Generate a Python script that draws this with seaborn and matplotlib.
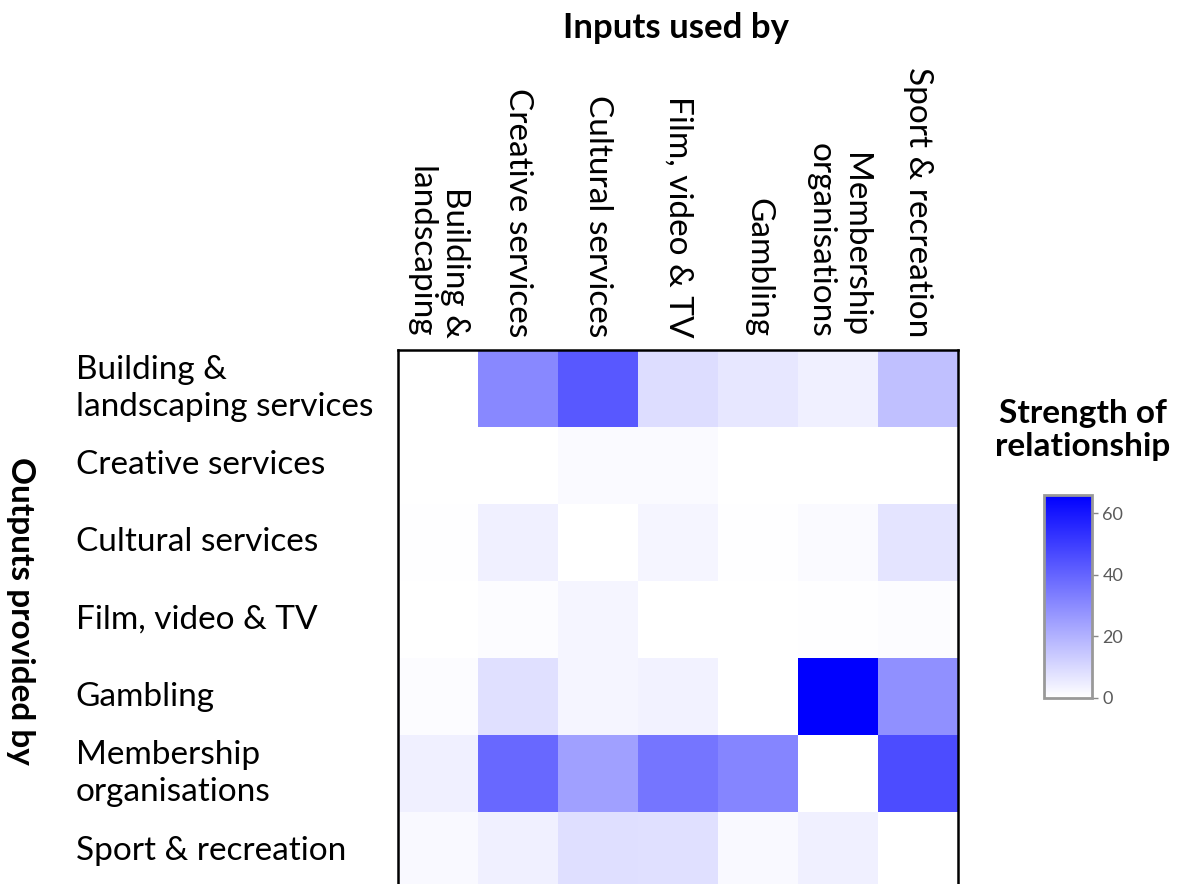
import numpy as np
import pandas as pd
from matplotlib import pyplot as plt
from matplotlib.colors import LinearSegmentedColormap
import seaborn as sns

# industries: inputs used by (columns) and outputs provided by (rows)
inputs_used_by = ["Building &\nlandscaping", "Creative services", "Cultural services",
                  "Film, video & TV", "Gambling", "Membership\norganisations",
                  "Sport & recreation"]
outputs_provided_by = ["Building &\nlandscaping services", "Creative services",
                       "Cultural services", "Film, video & TV", "Gambling",
                       "Membership\norganisations", "Sport & recreation"]

# strength of relationship (row = output, col = input)
building_row = [0.0, 30.8, 43.2, 8.8, 6.2, 4.1, 16.3]
creative_row = [0.0, 0.0, 1.3, 1.3, 0.0, 0.0, 0.0]
cultural_row = [0.5, 3.9, 0.0, 2.6, 0.5, 1.3, 7.0]
film_row = [0.0, 1.0, 2.6, 0.0, 0.0, 0.5, 0.8]
gambling_row = [0.8, 8.0, 2.6, 3.4, 0.0, 66.0, 28.7]
membership_row = [3.9, 39.1, 24.6, 35.7, 31.6, 0.0, 46.3]
sport_row = [1.6, 3.9, 8.5, 8.0, 1.6, 3.9, 0.0]

cbar_ticks = [0, 20, 40, 60]

strength = pd.DataFrame([building_row, creative_row, cultural_row, film_row,
                         gambling_row, membership_row, sport_row],
                        index=outputs_provided_by, columns=inputs_used_by)

sns.set_theme(style="white")
plt.rcParams['font.family'] = ['Lato', 'DejaVu Sans']
plt.rcParams['text.color'] = 'black'

fig = plt.figure(figsize=(11.82, 8.84), dpi=100)
W, H = 1182, 884
ax = fig.add_axes([398 / W, 1 - 889 / H, 560 / W, 539 / H])
cax = fig.add_axes([1044 / W, 1 - 698 / H, 48 / W, 203 / H])

blues = LinearSegmentedColormap.from_list("white_blue", ["#ffffff", "#0000ff"])
sns.heatmap(strength, ax=ax, cmap=blues, vmin=0, vmax=66, cbar_ax=cax,
            cbar_kws={"ticks": cbar_ticks})

# column labels on top, reading downwards
ax.xaxis.tick_top()
ax.set_xticklabels(inputs_used_by, rotation=-90, fontsize=24, va="bottom",
                   ha="center", ma="right", linespacing=1.2, color="black")
ax.tick_params(axis="x", length=0, pad=9)

# row labels left-aligned far to the left
ax.set_yticklabels(outputs_provided_by, rotation=0, fontsize=24, ha="left",
                   va="center", ma="left", linespacing=1.3, color="black")
ax.tick_params(axis="y", length=0, pad=232)
ax.set_xlabel("")
ax.set_ylabel("")

for side in ["top", "left", "right", "bottom"]:
    ax.spines[side].set_visible(True)
    ax.spines[side].set_color("black")
    ax.spines[side].set_linewidth(1.8)

fig.text(676 / W, 1 - 28 / H, "Inputs used by", fontsize=25, fontweight="bold",
         ha="center", va="center", color="black")
fig.text(20 / W, 1 - 611 / H, "Outputs provided by", fontsize=24,
         fontweight="bold", rotation=-90, ha="center", va="center", color="black")
fig.text(1083 / W, 1 - 430 / H, "Strength of\nrelationship", fontsize=24,
         fontweight="bold", ha="center", va="center", linespacing=1.2,
         color="black")

# colorbar styling
cbar = ax.collections[0].colorbar
cax.tick_params(labelsize=13, labelcolor="#5a5a5a", color="#888888",
                length=4, width=1, right=True)
cbar.outline.set_visible(True)
cbar.outline.set_edgecolor("#999999")
cbar.outline.set_linewidth(2)

fig.savefig("out.png", dpi=100)
